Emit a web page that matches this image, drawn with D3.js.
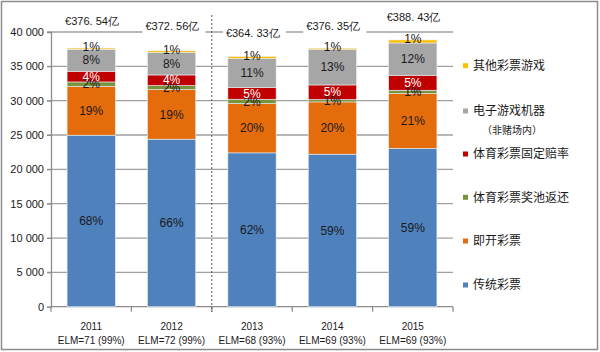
<!DOCTYPE html>
<html>
<head>
<meta charset="utf-8">
<script src="https://cdn.jsdelivr.net/npm/d3@7"></script>
<style>
  body { margin: 0; background: #fff; }
  svg { display: block; font-family: "Liberation Sans", Arial, sans-serif; }
</style>
</head>
<body>
<svg id="chart" width="600" height="352"></svg>
<script>
// years and second line of the x labels
const years = ["2011", "2012", "2013", "2014", "2015"];
const elm = ["ELM=71 (99%)", "ELM=72 (99%)", "ELM=68 (93%)", "ELM=69 (93%)", "ELM=69 (93%)"];
const totals = ["€376. 54亿", "€372. 56亿", "€364. 33亿", "€376. 35亿", "€388. 43亿"];

// series values (million EUR), bottom to top
const traditional = [24974, 24393, 22400, 22211, 23040];
const instant     = [7128, 7229, 7185, 7607, 8000];
const poolSports  = [625, 581, 626, 349, 480];
const fixedOdds   = [1557, 1542, 1702, 2124, 2182];
const machines    = [3200, 3258, 4218, 5149, 4698];
const otherGames  = [170, 253, 302, 195, 443];

// share labels
const pctTraditional = ["68%", "66%", "62%", "59%", "59%"];
const pctInstant     = ["19%", "19%", "20%", "20%", "21%"];
const pctPool        = ["2%", "2%", "2%", "1%", "1%"];
const pctFixed       = ["4%", "4%", "5%", "5%", "5%"];
const pctMachines    = ["8%", "8%", "11%", "13%", "12%"];
const pctOther       = ["1%", "1%", "1%", "1%", "1%"];

const yTicks = [0, 5000, 10000, 15000, 20000, 25000, 30000, 35000, 40000];

const series = [
    { key: "传统彩票", values: traditional, pct: pctTraditional, color: "#4f81bd", text: "#1a1a1a" },
    { key: "即开彩票", values: instant, pct: pctInstant, color: "#e46c0a", text: "#1a1a1a" },
    { key: "体育彩票奖池返还", values: poolSports, pct: pctPool, color: "#77933c", text: "#1a1a1a" },
    { key: "体育彩票固定赔率", values: fixedOdds, pct: pctFixed, color: "#c00000", text: "#fff" },
    { key: "电子游戏机器", values: machines, pct: pctMachines, color: "#a6a6a6", text: "#1a1a1a" },
    { key: "其他彩票游戏", values: otherGames, pct: pctOther, color: "#ffc000", text: "#1a1a1a" }
];

const svg = d3.select("#chart");

// frame
svg.append("rect")
    .attr("x", 1.5).attr("y", 1.5).attr("width", 596).attr("height", 348)
    .attr("fill", "#fff").attr("stroke", "#8c8c8c").attr("stroke-width", 1.5);

const mLeft = 51, mRight = 453, mTop = 32, mBottom = 306.7;

const x = d3.scaleBand().domain(years).range([mLeft, mRight]).paddingInner(0.4).paddingOuter(0.2);
const band = d3.scaleBand().domain(years).range([mLeft, mRight]);
const y = d3.scaleLinear().domain([0, 40000]).range([mBottom, mTop]);

// stack
const rows = years.map((yr, i) => {
    const r = { year: yr };
    series.forEach(s => r[s.key] = s.values[i]);
    return r;
});
const stacked = d3.stack().keys(series.map(s => s.key))(rows);

// gridlines
svg.append("g").selectAll("line")
    .data(yTicks.filter(d => d > 0))
    .enter().append("line")
    .attr("x1", mLeft - 4).attr("x2", mRight)
    .attr("y1", d => y(d)).attr("y2", d => y(d))
    .attr("stroke", "#a0a0a0").attr("stroke-width", 1.3);

// y axis
const yAxis = svg.append("g")
    .attr("transform", "translate(" + mLeft + ",0)")
    .call(d3.axisLeft(y).tickValues(yTicks).tickSize(4)
        .tickFormat(d => d3.format(",")(d).replace(/,/g, " ")));
yAxis.select(".domain").attr("stroke", "#8c8c8c").attr("stroke-width", 1.3);
yAxis.selectAll(".tick line").attr("stroke", "#8c8c8c");
yAxis.selectAll("text").attr("font-size", 11).attr("fill", "#1a1a1a").attr("x", -7);

// x axis
const xAxisG = svg.append("g");
xAxisG.append("line")
    .attr("x1", mLeft).attr("x2", mRight).attr("y1", mBottom).attr("y2", mBottom)
    .attr("stroke", "#8c8c8c").attr("stroke-width", 1.3);
xAxisG.selectAll(".tk")
    .data(years.concat(["end"]))
    .enter().append("line")
    .attr("x1", (d, i) => mLeft + i * band.bandwidth())
    .attr("x2", (d, i) => mLeft + i * band.bandwidth())
    .attr("y1", mBottom).attr("y2", mBottom + 5)
    .attr("stroke", "#8c8c8c").attr("stroke-width", 1.3);

// bars
const layer = svg.append("g").selectAll("g")
    .data(stacked)
    .enter().append("g")
    .attr("fill", (d, i) => series[i].color);

layer.selectAll("rect")
    .data(d => d)
    .enter().append("rect")
    .attr("x", d => x(d.data.year))
    .attr("y", d => y(d[1]))
    .attr("width", x.bandwidth())
    .attr("height", d => y(d[0]) - y(d[1]))
    .attr("stroke", "#e8eef6").attr("stroke-width", 0.6);

// dashed divider between 2012 and 2013
svg.append("line")
    .attr("x1", mLeft + 2 * band.bandwidth()).attr("x2", mLeft + 2 * band.bandwidth())
    .attr("y1", 15).attr("y2", 312)
    .attr("stroke", "#555").attr("stroke-width", 1).attr("stroke-dasharray", "2,2");

// percentage labels
stacked.forEach((s, si) => {
    const last = si === stacked.length - 1;
    svg.append("g").selectAll("text")
        .data(s)
        .enter().append("text")
        .attr("x", d => x(d.data.year) + x.bandwidth() / 2)
        .attr("y", d => last ? y(d[1]) - 1 : (y(d[0]) + y(d[1])) / 2)
        .attr("dy", "0.35em")
        .attr("text-anchor", "middle")
        .attr("font-size", 12)
        .attr("fill", series[si].text)
        .text((d, i) => series[si].pct[i]);
});

// total labels above the bars
const totalOffset = [26.5, 24.5, 23.5, 22, 23];
const totalLbl = svg.append("g").selectAll("g")
    .data(years)
    .enter().append("g");
const grand = years.map((yr, i) => d3.sum(series, s => s.values[i]));
totalLbl.append("rect")
    .attr("x", d => x(d) - 5)
    .attr("y", (d, i) => y(grand[i]) - totalOffset[i] - 7)
    .attr("width", 63).attr("height", 14)
    .attr("fill", "#fff");
totalLbl.append("text")
    .attr("x", d => x(d) - 2)
    .attr("y", (d, i) => y(grand[i]) - totalOffset[i])
    .attr("dy", "0.35em")
    .attr("font-size", 11)
    .attr("fill", "#1a1a1a")
    .text((d, i) => totals[i]);

// x labels
const xl = svg.append("g").selectAll("g")
    .data(years)
    .enter().append("g")
    .attr("transform", d => "translate(" + (band(d) + band.bandwidth() / 2) + ",0)");
xl.append("text").attr("y", 326).attr("dy", "0.35em").attr("text-anchor", "middle")
    .attr("font-size", 10).attr("fill", "#1a1a1a").text(d => d);
xl.append("text").attr("y", 340).attr("dy", "0.35em").attr("text-anchor", "middle")
    .attr("font-size", 10).attr("fill", "#1a1a1a").text((d, i) => elm[i]);

// legend
const legendY = [285, 241, 197.3, 154, 111, 65.7];
const legend = svg.append("g").selectAll("g")
    .data(series)
    .enter().append("g")
    .attr("transform", (d, i) => "translate(463," + legendY[i] + ")");
legend.append("rect")
    .attr("x", 0).attr("y", -2.5).attr("width", 5).attr("height", 5)
    .attr("fill", d => d.color);
legend.append("text")
    .attr("x", 10).attr("dy", "0.35em")
    .attr("font-family", "'Noto Sans CJK SC', sans-serif")
    .attr("font-size", 12).attr("fill", "#1a1a1a")
    .text(d => d.key);
svg.append("text")
    .attr("x", 482).attr("y", 130.7).attr("dy", "0.35em")
    .attr("font-family", "'Noto Sans CJK SC', sans-serif")
    .attr("font-size", 10).attr("fill", "#1a1a1a")
    .text("（非赌场内）");
</script>
</body>
</html>
